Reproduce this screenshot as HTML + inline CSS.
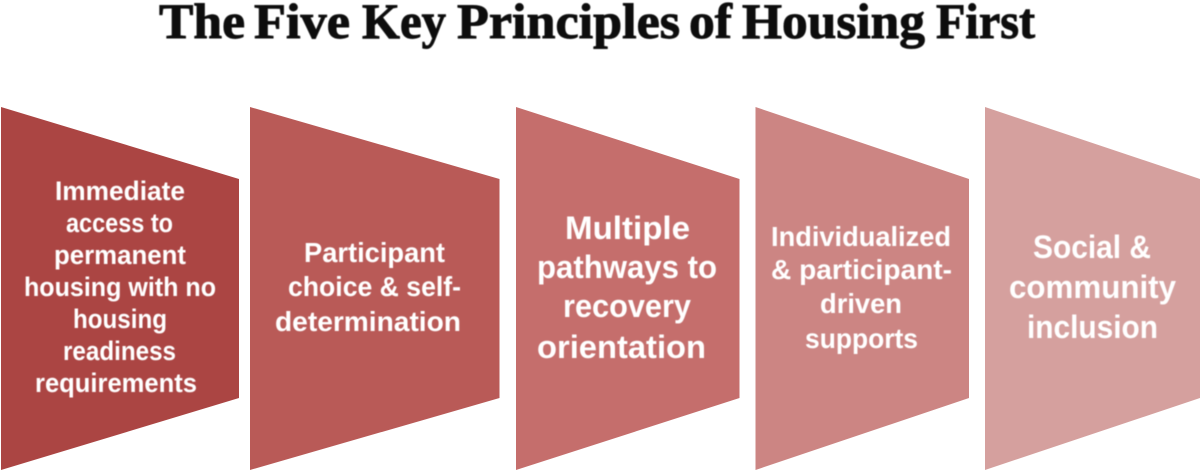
<!DOCTYPE html>
<html lang="en">
<head>
<meta charset="utf-8">
<title>The Five Key Principles of Housing First</title>
<style>
html,body{margin:0;padding:0;background:#fff;width:1200px;height:470px;overflow:hidden}
svg{display:block}
.t{font-family:"Liberation Sans",sans-serif;font-weight:bold;fill:#fff;filter:url(#soft)}
.h{font-family:"Liberation Serif",serif;font-weight:bold;fill:#0a0a0a;stroke:#0a0a0a;stroke-width:.9px;font-size:50px;filter:url(#soft)}
</style>
</head>
<body>
<svg width="1200" height="470" viewBox="0 0 1200 470" xmlns="http://www.w3.org/2000/svg">
<defs>
<filter id="soft" x="-5%" y="-20%" width="110%" height="140%"><feGaussianBlur stdDeviation="0.4"/></filter>
</defs>
<g class="h">
<text x="159" y="38" textLength="86" lengthAdjust="spacingAndGlyphs">The</text>
<text x="254" y="38" textLength="96" lengthAdjust="spacingAndGlyphs">Five</text>
<text x="362" y="38" textLength="84" lengthAdjust="spacingAndGlyphs">Key</text>
<text x="457" y="38" textLength="223" lengthAdjust="spacingAndGlyphs">Principles</text>
<text x="689" y="38" textLength="43" lengthAdjust="spacingAndGlyphs">of</text>
<text x="742" y="38" textLength="183" lengthAdjust="spacingAndGlyphs">Housing</text>
<text x="936" y="38" textLength="99" lengthAdjust="spacingAndGlyphs">First</text>
</g>

<polygon points="1,107 239,179 239,398 1,470" fill="#ab4543"/>
<polygon points="250,107 499.5,179 499.5,398 250,470" fill="#b95a57"/>
<polygon points="516,107 739.5,179 739.5,398 516,470" fill="#c56e6c"/>
<polygon points="755.5,107 969,179 969,398 755.5,470" fill="#cc8583"/>
<polygon points="985,107 1200,179 1200,398 985,470" fill="#d5a09e"/>

<g class="t" font-size="26.5">
<text x="55" y="200" textLength="130" lengthAdjust="spacingAndGlyphs">Immediate</text>
<text x="66" y="232" textLength="107" lengthAdjust="spacingAndGlyphs">access to</text>
<text x="54" y="264" textLength="132" lengthAdjust="spacingAndGlyphs">permanent</text>
<text x="24" y="296" textLength="192" lengthAdjust="spacingAndGlyphs">housing with no</text>
<text x="73" y="328" textLength="94" lengthAdjust="spacingAndGlyphs">housing</text>
<text x="63" y="360" textLength="113" lengthAdjust="spacingAndGlyphs">readiness</text>
<text x="35" y="392" textLength="162" lengthAdjust="spacingAndGlyphs">requirements</text>
</g>
<g class="t" font-size="28">
<text x="304" y="262" textLength="141" lengthAdjust="spacingAndGlyphs">Participant</text>
<text x="288" y="296" textLength="173" lengthAdjust="spacingAndGlyphs">choice &amp; self-</text>
<text x="275" y="331" textLength="186" lengthAdjust="spacingAndGlyphs">determination</text>
</g>
<g class="t" font-size="32">
<text x="565" y="239" textLength="125" lengthAdjust="spacingAndGlyphs">Multiple</text>
<text x="537" y="278" textLength="180" lengthAdjust="spacingAndGlyphs">pathways to</text>
<text x="563" y="317" textLength="128" lengthAdjust="spacingAndGlyphs">recovery</text>
<text x="537" y="358" textLength="169" lengthAdjust="spacingAndGlyphs">orientation</text>
</g>
<g class="t" font-size="28">
<text x="771" y="246" textLength="180" lengthAdjust="spacingAndGlyphs">Individualized</text>
<text x="771" y="279" textLength="181" lengthAdjust="spacingAndGlyphs">&amp; participant-</text>
<text x="820" y="313" textLength="82" lengthAdjust="spacingAndGlyphs">driven</text>
<text x="805" y="348" textLength="113" lengthAdjust="spacingAndGlyphs">supports</text>
</g>
<g class="t" font-size="32">
<text x="1033" y="258" textLength="118" lengthAdjust="spacingAndGlyphs">Social &amp;</text>
<text x="1009" y="298" textLength="167" lengthAdjust="spacingAndGlyphs">community</text>
<text x="1027" y="338" textLength="131" lengthAdjust="spacingAndGlyphs">inclusion</text>
</g>
</svg>
</body>
</html>
